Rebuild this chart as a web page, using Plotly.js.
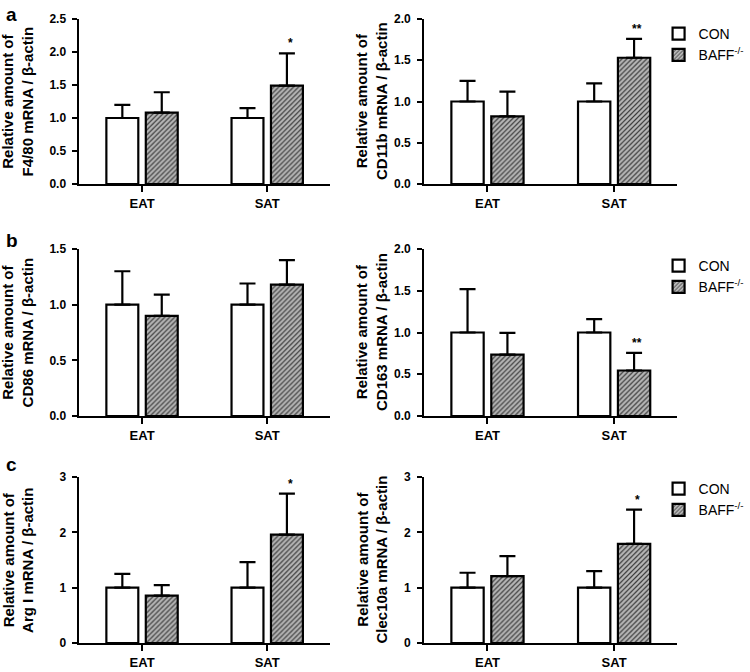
<!DOCTYPE html>
<html>
<head>
<meta charset="utf-8">
<script src="https://cdn.plot.ly/plotly-3.0.1.min.js"></script>
<style>
  body { margin: 0; background: white; }
  #chart { width: 750px; height: 672px; }
</style>
</head>
<body>
<div id="chart"></div>
<script>
const categories = ['EAT', 'SAT'];
const groupNames = ['CON', 'BAFF<sup>-/-</sup>'];

// panel a
const f480Con = [1.0, 1.0];
const f480ConErr = [0.2, 0.15];
const f480Baff = [1.08, 1.49];
const f480BaffErr = [0.31, 0.49];
const f480Sig = ['', '*'];

const cd11bCon = [1.0, 1.0];
const cd11bConErr = [0.25, 0.22];
const cd11bBaff = [0.82, 1.53];
const cd11bBaffErr = [0.3, 0.23];
const cd11bSig = ['', '**'];

// panel b
const cd86Con = [1.0, 1.0];
const cd86ConErr = [0.3, 0.19];
const cd86Baff = [0.9, 1.18];
const cd86BaffErr = [0.19, 0.22];
const cd86Sig = ['', ''];

const cd163Con = [1.0, 1.0];
const cd163ConErr = [0.52, 0.16];
const cd163Baff = [0.735, 0.545];
const cd163BaffErr = [0.26, 0.21];
const cd163Sig = ['', '**'];

// panel c
const argCon = [1.0, 1.0];
const argConErr = [0.25, 0.46];
const argBaff = [0.855, 1.96];
const argBaffErr = [0.19, 0.74];
const argSig = ['', '*'];

const clecCon = [1.0, 1.0];
const clecConErr = [0.27, 0.3];
const clecBaff = [1.21, 1.79];
const clecBaffErr = [0.36, 0.62];
const clecSig = ['', '*'];

const yLabels = [
  'Relative amount of<br>F4/80 mRNA / β-actin',
  'Relative amount of<br>CD11b mRNA / β-actin',
  'Relative amount of<br>CD86 mRNA / β-actin',
  'Relative amount of<br>CD163 mRNA / β-actin',
  'Relative amount of<br>Arg I mRNA / β-actin',
  'Relative amount of<br>Clec10a mRNA / β-actin',
];
const yMax = [2.5, 2.0, 1.5, 2.0, 3, 3];
const yStep = [0.5, 0.5, 0.5, 0.5, 1, 1];

const panels = [
  [f480Con, f480ConErr, f480Baff, f480BaffErr, f480Sig],
  [cd11bCon, cd11bConErr, cd11bBaff, cd11bBaffErr, cd11bSig],
  [cd86Con, cd86ConErr, cd86Baff, cd86BaffErr, cd86Sig],
  [cd163Con, cd163ConErr, cd163Baff, cd163BaffErr, cd163Sig],
  [argCon, argConErr, argBaff, argBaffErr, argSig],
  [clecCon, clecConErr, clecBaff, clecBaffErr, clecSig],
];

const FONT = 'Arial, "Liberation Sans", sans-serif';
let colDomains = [[80 / 750, 332 / 750], [427 / 750, 682 / 750]];
let rowDomains = [
  [1 - 184 / 672, 1 - 19 / 672],
  [1 - 416 / 672, 1 - 249 / 672],
  [1 - 643 / 672, 1 - 477 / 672],
];
let legendIds = ['legend', 'legend2', 'legend3'];
let legendTops = [1 - 18 / 672, 1 - 250 / 672, 1 - 473 / 672];

let traces = [];
let annotations = [];
let layout = {
  width: 750,
  height: 672,
  margin: { l: 0, r: 0, t: 0, b: 0 },
  paper_bgcolor: 'white',
  plot_bgcolor: 'white',
  barmode: 'group',
  bargap: 0.37,
  bargroupgap: 0.19,
  font: { family: FONT, color: 'black' },
};

panels.forEach((p, i) => {
  let row = Math.floor(i / 2);
  let col = i % 2;
  let n = i + 1;
  let xa = n === 1 ? 'x' : 'x' + n;
  let ya = n === 1 ? 'y' : 'y' + n;
  let showLeg = col === 1;

  traces.push({
    type: 'bar',
    x: categories,
    y: p[0],
    name: groupNames[0],
    xaxis: xa,
    yaxis: ya,
    legend: legendIds[row],
    showlegend: showLeg,
    marker: { color: 'white', line: { color: 'black', width: 2.2 } },
    error_y: {
      type: 'data',
      symmetric: false,
      array: p[1],
      arrayminus: [0, 0],
      color: 'black',
      thickness: 2.2,
      width: 8,
    },
  });
  traces.push({
    type: 'bar',
    x: categories,
    y: p[2],
    name: groupNames[1],
    xaxis: xa,
    yaxis: ya,
    legend: legendIds[row],
    showlegend: showLeg,
    marker: {
      color: '#a8a8a8',
      line: { color: 'black', width: 2.2 },
      pattern: { shape: '/', size: 3.5, solidity: 0.35, fgcolor: '#3a3a3a', bgcolor: '#b8b8b8' },
    },
    error_y: {
      type: 'data',
      symmetric: false,
      array: p[3],
      arrayminus: [0, 0],
      color: 'black',
      thickness: 2.2,
      width: 8,
    },
  });

  let axisKey = n === 1 ? '' : n;
  layout['xaxis' + axisKey] = {
    domain: colDomains[col],
    anchor: ya,
    range: [-0.5, 1.5],
    showline: true,
    linecolor: 'black',
    linewidth: 2,
    ticks: 'outside',
    ticklen: 6,
    tickwidth: 2,
    tickcolor: 'black',
    tickfont: { size: 13, weight: 'bold' },
    fixedrange: true,
  };
  layout['yaxis' + axisKey] = {
    domain: rowDomains[row],
    anchor: xa,
    range: [0, yMax[i]],
    dtick: yStep[i],
    tickformat: yStep[i] < 1 ? '.1f' : 'd',
    showgrid: false,
    zeroline: false,
    showline: true,
    linecolor: 'black',
    linewidth: 2,
    ticks: 'outside',
    ticklen: 5,
    tickwidth: 2,
    tickcolor: 'black',
    ticklabelstandoff: 4,
    tickfont: { size: 12, weight: 'bold' },
    fixedrange: true,
  };

  // y title
  annotations.push({
    xref: 'paper',
    yref: 'paper',
    x: col === 0 ? 18 / 750 : 374 / 750,
    y: (rowDomains[row][0] + rowDomains[row][1]) / 2,
    xanchor: 'center',
    yanchor: 'middle',
    textangle: -90,
    showarrow: false,
    text: yLabels[i],
    font: { size: 15, weight: 'bold' },
  });

  // significance marks over BAFF bars
  p[4].forEach((s, k) => {
    if (!s) return;
    annotations.push({
      xref: xa,
      yref: ya,
      x: categories[k],
      y: p[2][k] + p[3][k],
      xshift: 23,
      yanchor: 'bottom',
      yshift: 1,
      showarrow: false,
      text: s,
      font: { size: 12, weight: 'bold' },
    });
  });
});

['a', 'b', 'c'].forEach((letter, r) => {
  annotations.push({
    xref: 'paper',
    yref: 'paper',
    x: 4 / 750,
    y: [1 - 2 / 672, 1 - 228 / 672, 1 - 452 / 672][r],
    xanchor: 'left',
    yanchor: 'top',
    showarrow: false,
    text: letter,
    font: { size: 19, weight: 'bold' },
  });
});

legendIds.forEach((id, r) => {
  layout[id] = {
    x: 663 / 750,
    y: legendTops[r],
    xanchor: 'left',
    yanchor: 'top',
    bgcolor: 'rgba(0,0,0,0)',
    font: { size: 14 },
    tracegroupgap: 0,
  };
});

layout.annotations = annotations;

Plotly.newPlot('chart', traces, layout, { displayModeBar: false, staticPlot: true });
</script>
</body>
</html>
